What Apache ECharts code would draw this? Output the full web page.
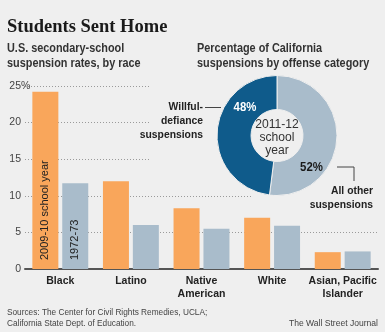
<!DOCTYPE html>
<html><head><meta charset="utf-8">
<script src="https://cdn.jsdelivr.net/npm/echarts@6/dist/echarts.min.js"></script>
<style>html,body{margin:0;padding:0;background:#efefef}#c{width:385px;height:332px}</style>
</head><body><div id="c"></div>
<script>
const categories = ['Black', 'Latino', 'Native\nAmerican', 'White', 'Asian, Pacific\nIslander'];
const seriesNames = ['2009-10 school year', '1972-73'];
const rates2009 = [24.2, 12.0, 8.3, 7.0, 2.3];
const rates1972 = [11.7, 6.0, 5.5, 5.9, 2.4];
const yTicks = [0, 5, 10, 15, 20, 25];
const offenseNames = ['All other\nsuspensions', 'Willful-\ndefiance\nsuspensions'];
const offenseShares = [52, 48];
const centerLabel = '2011-12\nschool\nyear';
const titleText = 'Students Sent Home';
const leftSubtitle = 'U.S. secondary-school\nsuspension rates, by race';
const rightSubtitle = 'Percentage of California\nsuspensions by offense category';
const sourceText = 'Sources: The Center for Civil Rights Remedies, UCLA;\nCalifornia State Dept. of Education.';
const creditText = 'The Wall Street Journal';

const BG = '#efefef';
const ORANGE = '#f9a65b';
const GREYBLUE = '#a9bccb';
const DARKBLUE = '#0f5b8b';
const SANS = '"Liberation Sans",Arial,sans-serif';

const chart = echarts.init(document.getElementById('c'), null, {renderer: 'canvas'});

function firstLabel(arr, text, color) {
  return arr.map((v, i) => i === 0 ? {
    value: v,
    label: {
      show: true, formatter: text, position: 'insideBottom', distance: 9,
      rotate: 90, align: 'left', verticalAlign: 'middle',
      color: color, fontFamily: SANS, fontSize: 11
    }
  } : v);
}

function txt(text, x, y, opts, sx) {
  return {
    type: 'text', x: x, y: y, z: 100, silent: true, scaleX: sx || 1,
    style: Object.assign({text: text, fill: '#333', align: 'left', verticalAlign: 'middle'}, opts || {})
  };
}

const option = {
  backgroundColor: BG,
  animation: false,
  grid: {left: 25, right: 7, top: 86, bottom: 63, containLabel: false, outerBoundsMode: 'none'},
  xAxis: {
    type: 'category', data: categories,
    axisLine: {lineStyle: {color: '#555', width: 2}},
    axisTick: {show: false},
    axisLabel: {color: '#222', fontFamily: SANS, fontWeight: 'bold', fontSize: 10.5, lineHeight: 12.5, margin: 6, interval: 0}
  },
  yAxis: {
    type: 'value', min: yTicks[0], max: yTicks[yTicks.length - 1], interval: yTicks[1] - yTicks[0],
    axisLine: {show: false}, axisTick: {show: false},
    axisLabel: {color: '#444', fontFamily: SANS, fontSize: 10.5, margin: 4},
    splitLine: {lineStyle: {color: '#9a9a9a', type: [1, 2], width: 1}}
  },
  series: [
    {
      type: 'bar', name: seriesNames[0], data: firstLabel(rates2009, seriesNames[0], '#222'),
      barWidth: 26, barGap: '15%', itemStyle: {color: ORANGE}, z: 2
    },
    {
      type: 'bar', name: seriesNames[1], data: firstLabel(rates1972, seriesNames[1], '#222'),
      barWidth: 26, itemStyle: {color: GREYBLUE}, z: 2
    },
    {
      type: 'pie', center: [277, 135.5], radius: [26, 60], startAngle: 90, clockwise: true,
      label: {show: false}, labelLine: {show: false}, silent: true, z: 3,
      itemStyle: {borderColor: BG, borderWidth: 1},
      data: offenseShares.map((v, i) => ({value: v, name: offenseNames[i], itemStyle: {color: i === 0 ? GREYBLUE : DARKBLUE}}))
    }
  ],
  graphic: [
    {type: 'rect', z: 1, silent: true, shape: {x: 150, y: 28, width: 235, height: 162}, style: {fill: BG}},
    {type: 'rect', z: 1, silent: true, shape: {x: 253, y: 185, width: 132, height: 27}, style: {fill: BG}},
    txt(titleText, 7, 27.5, {fill: '#1a1a1a', font: 'bold 18.5px "Liberation Serif","Times New Roman",serif'}),
    txt(leftSubtitle, 7, 56, {fill: '#333', font: 'bold 12.5px ' + SANS, lineHeight: 15}, 0.87),
    txt(rightSubtitle, 197, 56, {fill: '#333', font: 'bold 12.5px ' + SANS, lineHeight: 15}, 0.87),
    txt(offenseNames[1], 203, 120.5, {fill: '#222', font: 'bold 11.5px ' + SANS, lineHeight: 14, align: 'right'}, 0.9),
    txt(offenseNames[0], 373, 198, {fill: '#222', font: 'bold 11.5px ' + SANS, lineHeight: 14, align: 'right'}, 0.9),
    txt(offenseShares[1] + '%', 245, 108, {fill: '#fff', font: 'bold 12px ' + SANS, align: 'center'}, 0.95),
    txt(offenseShares[0] + '%', 311.5, 167.5, {fill: '#1a1a1a', font: 'bold 12px ' + SANS, align: 'center'}, 0.95),
    txt(centerLabel, 277, 137.5, {fill: '#333', font: '12.5px ' + SANS, lineHeight: 13, align: 'center'}, 0.97),
    {type: 'polyline', z: 100, silent: true, shape: {points: [[205, 107.5], [221, 107.5]]}, style: {stroke: '#444', lineWidth: 1, fill: null}},
    {type: 'polyline', z: 100, silent: true, shape: {points: [[337, 167], [354, 167], [354, 181]]}, style: {stroke: '#444', lineWidth: 1, fill: null}},
    txt(sourceText, 7, 318, {fill: '#444', font: '9.5px ' + SANS, lineHeight: 10.8}, 0.87),
    txt(creditText, 378, 323.5, {fill: '#444', font: '9.5px ' + SANS, align: 'right'}, 0.9)
  ]
};
chart.setOption(option);

// hanging percent sign after the top tick label
const topY = chart.convertToPixel({yAxisIndex: 0}, yTicks[yTicks.length - 1]);
option.graphic.push(txt('%', 21, topY, {fill: '#444', font: '10.5px ' + SANS}));
chart.setOption({graphic: option.graphic});
</script>
</body></html>
